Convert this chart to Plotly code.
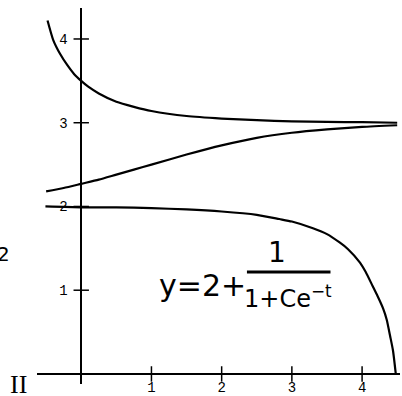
import plotly.graph_objects as go

# Tick values
x_ticks = [1, 2, 3, 4]
y_ticks = [1, 2, 3, 4]

# Upper solution curve
t_top = [-0.48, -0.4, -0.3, -0.2, -0.1, 0.0, 0.1, 0.25, 0.5, 0.75, 1.0, 1.5, 2.0, 2.5, 3.0, 3.5, 4.0, 4.5]
y_top = [4.22, 3.99, 3.82, 3.69, 3.58, 3.5, 3.43, 3.35, 3.25, 3.19, 3.14, 3.08, 3.05, 3.03, 3.017, 3.01, 3.006, 3.0]

# Middle solution curve
t_mid = [-0.5, -0.25, 0.0, 0.25, 0.5, 0.75, 1.0, 1.5, 2.0, 2.5, 3.0, 3.5, 4.0, 4.5]
y_mid = [2.18, 2.22, 2.27, 2.32, 2.38, 2.44, 2.50, 2.62, 2.73, 2.82, 2.88, 2.92, 2.95, 2.97]

# Lower solution curve
t_low = [-0.51, 0.0, 0.5, 1.0, 1.5, 2.0, 2.5, 2.82, 3.0, 3.3, 3.5, 3.68, 3.8, 3.97, 4.05, 4.15, 4.22, 4.3, 4.35, 4.4, 4.44, 4.48]
y_low = [2.0, 1.99, 1.99, 1.98, 1.965, 1.94, 1.90, 1.85, 1.82, 1.74, 1.67, 1.57, 1.49, 1.33, 1.22, 1.05, 0.93, 0.78, 0.65, 0.45, 0.28, 0.0]

X_RANGE = [-0.63, 4.54]
Y_RANGE = [-0.12, 4.37]

fig = go.Figure()
line = dict(color="black", width=2.2, shape="spline", smoothing=0.6)
for t, y in [(t_top, y_top), (t_mid, y_mid), (t_low, y_low)]:
    fig.add_trace(go.Scatter(x=t, y=y, mode="lines", line=line, hoverinfo="skip", cliponaxis=False))

# Crossing tick marks
fig.add_trace(go.Scatter(x=x_ticks, y=[0] * len(x_ticks), mode="markers",
                         marker=dict(symbol="line-ns", size=11, line=dict(color="black", width=1.5)),
                         hoverinfo="skip", cliponaxis=False))
fig.add_trace(go.Scatter(x=[0] * len(y_ticks), y=y_ticks, mode="markers",
                         marker=dict(symbol="line-ew", size=11, line=dict(color="black", width=1.5)),
                         hoverinfo="skip", cliponaxis=False))

xpos = (0 - Y_RANGE[0]) / (Y_RANGE[1] - Y_RANGE[0])
ypos = (0 - X_RANGE[0]) / (X_RANGE[1] - X_RANGE[0])
tickfont = dict(family="Liberation Mono", size=14, color="black")

fig.update_layout(
    width=402, height=396, autosize=False,
    margin=dict(l=37, r=2, t=8, b=12),
    paper_bgcolor="white", plot_bgcolor="white",
    showlegend=False,
    xaxis=dict(range=X_RANGE, anchor="free", position=xpos, showline=True, linecolor="black",
               linewidth=1.5, showgrid=False, zeroline=False, tickvals=x_ticks, ticks="",
               tickfont=tickfont, ticklabelstandoff=0, fixedrange=True, automargin=False),
    yaxis=dict(range=Y_RANGE, anchor="free", position=ypos, showline=True, linecolor="black",
               linewidth=1.5, showgrid=False, zeroline=False, tickvals=y_ticks, ticks="",
               tickfont=tickfont, ticklabelstandoff=10, fixedrange=True, automargin=False),
)

hand = dict(family="DejaVu Sans", color="black")
fig.add_annotation(x=1.73, y=1.06, text="y=2+", showarrow=False, font=dict(size=30, **hand))
fig.add_annotation(x=2.79, y=1.455, text="1", showarrow=False, font=dict(size=28, **hand))
fig.add_annotation(x=2.95, y=0.92, text="1+Ce<sup>−t</sup>", showarrow=False, font=dict(size=24, **hand))
fig.add_shape(type="line", x0=2.36, x1=3.55, y0=1.216, y1=1.216, line=dict(color="black", width=3))

fig.add_annotation(xref="paper", yref="paper", x=-0.115, y=0.345, xanchor="left", text="2",
                   showarrow=False, font=dict(size=20, **hand))
fig.add_annotation(xref="paper", yref="paper", x=-0.08, y=-0.045, yanchor="bottom", text="II",
                   showarrow=False, font=dict(size=26, family="Liberation Serif", color="black"))

fig.write_html("out.html", config={"displayModeBar": False},
               post_script="document.body.style.margin='0';")
